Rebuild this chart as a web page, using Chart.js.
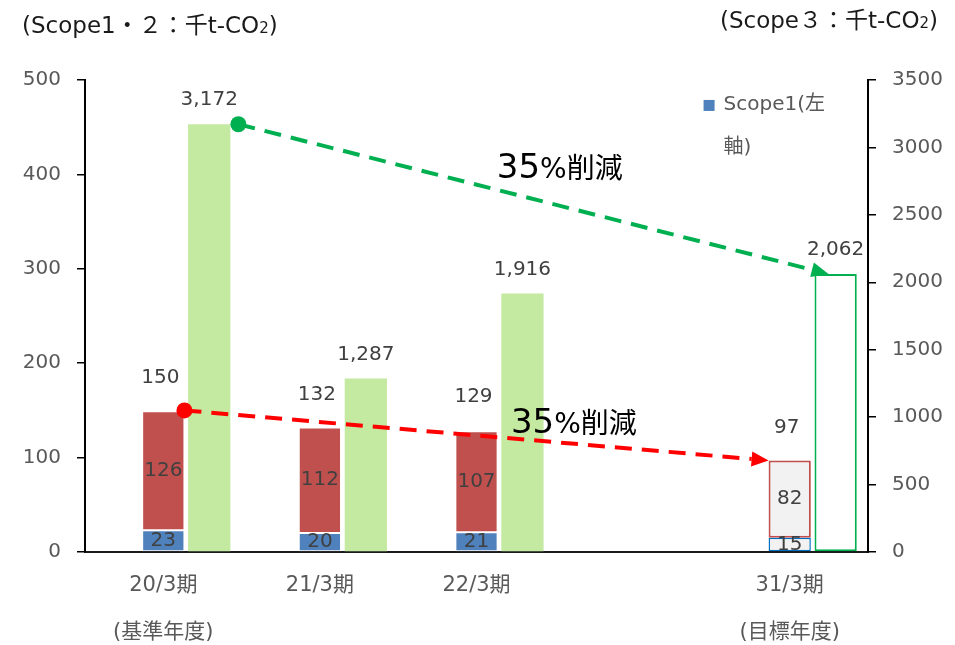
<!DOCTYPE html>
<html>
<head>
<meta charset="utf-8">
<script src="https://cdn.jsdelivr.net/npm/chart.js@4/dist/chart.umd.min.js"></script>
<style>
  html, body { margin: 0; padding: 0; background: #fff; }
  #wrap { width: 955px; height: 645px; position: relative; }
</style>
</head>
<body>
<div id="wrap"><canvas id="chart" width="955" height="645"></canvas></div>
<script>
// ---- data ----
const periods  = [['20/3期', '(基準年度)'], '21/3期', '22/3期', '', ['31/3期', '(目標年度)']];
const scope1   = [23, 20, 21, null, 15];      // 千t-CO2, left axis
const scope2   = [126, 112, 107, null, 82];   // 千t-CO2, left axis
const total12  = [150, 132, 129, null, 97];   // Scope1+2 totals
const scope3   = [3172, 1287, 1916, null, 2062]; // 千t-CO2, right axis
const leftTicks  = [0, 100, 200, 300, 400, 500];
const rightTicks = [0, 500, 1000, 1500, 2000, 2500, 3000, 3500];
const emptySlot  = [null, null, null, null, null];

const TARGET = periods.length - 1;   // last period is the target year
const FONT = "'DejaVu Sans', 'Noto Sans CJK JP', sans-serif";
const TICK_COLOR = '#595959';
const LABEL_COLOR = '#404040';

const fmt = v => v.toLocaleString('en-US');

function perPeriod(normal, target) {
  return periods.map((_, i) => i === TARGET ? target : normal);
}

// ---- helpers for canvas drawing ----
function dashedArrow(ctx, x0, y0, x1, y1, color) {
  const ang = Math.atan2(y1 - y0, x1 - x0);
  const headLen = 17, headHalf = 7.5;
  const bx = x1 - Math.cos(ang) * headLen, by = y1 - Math.sin(ang) * headLen;
  ctx.save();
  ctx.strokeStyle = color;
  ctx.fillStyle = color;
  ctx.lineWidth = 4;
  ctx.setLineDash([17, 10]);
  ctx.beginPath();
  ctx.moveTo(x0, y0);
  ctx.lineTo(bx, by);
  ctx.stroke();
  ctx.setLineDash([]);
  // start dot
  ctx.beginPath();
  ctx.arc(x0, y0, 8, 0, Math.PI * 2);
  ctx.fill();
  // arrow head
  ctx.beginPath();
  ctx.moveTo(x1, y1);
  ctx.lineTo(bx + Math.sin(ang) * headHalf, by - Math.cos(ang) * headHalf);
  ctx.lineTo(bx - Math.sin(ang) * headHalf, by + Math.cos(ang) * headHalf);
  ctx.closePath();
  ctx.fill();
  ctx.restore();
}

function reductionText(ctx, x, baseline) {
  ctx.save();
  ctx.fillStyle = '#000';
  ctx.textBaseline = 'alphabetic';
  ctx.textAlign = 'left';
  ctx.font = `34px ${FONT}`;
  ctx.fillText('35', x, baseline);
  const w = ctx.measureText('35').width;
  ctx.font = `28px ${FONT}`;
  ctx.fillText('%削減', x + w, baseline);
  ctx.restore();
}

function unitTitle(ctx, parts, x, y, align) {
  // parts: [text, size] pieces drawn side by side on a common baseline
  ctx.save();
  ctx.fillStyle = '#1a1a1a';
  ctx.textBaseline = 'alphabetic';
  ctx.textAlign = 'left';
  let total = 0;
  parts.forEach(([t, s]) => { ctx.font = `${s}px ${FONT}`; total += ctx.measureText(t).width; });
  let cx = align === 'right' ? x - total : x;
  parts.forEach(([t, s]) => {
    ctx.font = `${s}px ${FONT}`;
    ctx.fillText(t, cx, y);
    cx += ctx.measureText(t).width;
  });
  ctx.restore();
}

const overlay = {
  id: 'overlay',
  afterDatasetsDraw(chart) {
    const ctx = chart.ctx;
    const xs = chart.scales.x, y = chart.scales.y, y1 = chart.scales.y1;
    const m1 = chart.getDatasetMeta(1).data;
    const m2 = chart.getDatasetMeta(2).data;
    const m3 = chart.getDatasetMeta(3).data;

    // value labels
    ctx.save();
    ctx.font = `20px ${FONT}`;
    ctx.fillStyle = LABEL_COLOR;
    ctx.textAlign = 'center';
    ctx.textBaseline = 'middle';
    periods.forEach((_, i) => {
      if (scope1[i] == null) return;
      const b1 = m1[i], b2 = m2[i], b3 = m3[i];
      ctx.fillText(String(scope1[i]), b1.x, (b1.y + b1.base) / 2);
      ctx.fillText(String(scope2[i]), b2.x, (b2.y + b2.base) / 2);
      ctx.fillText(String(total12[i]), b2.x - 3, y.getPixelForValue(total12[i]) - 33);
      ctx.fillText(fmt(scope3[i]), b3.x, y1.getPixelForValue(scope3[i]) - 24);
    });
    ctx.restore();

    // reduction arrows: base year -> target year
    const g0 = m3[0], gT = m3[TARGET];
    dashedArrow(ctx,
      g0.x + g0.width / 2 + 8, y1.getPixelForValue(scope3[0]),
      gT.x - gT.width / 2 + 14, y1.getPixelForValue(scope3[TARGET]),
      '#00b050');
    const r0 = m2[0], rT = m2[TARGET];
    dashedArrow(ctx,
      r0.x + r0.width / 2, y.getPixelForValue(total12[0]),
      rT.x - rT.width / 2, y.getPixelForValue(total12[TARGET]),
      '#ff0000');

    reductionText(ctx, xs.getPixelForValue(2.13), y1.getPixelForValue(2775));
    reductionText(ctx, xs.getPixelForValue(2.22), y.getPixelForValue(126));

    // legend entry
    ctx.save();
    const lx = xs.getPixelForValue(3.45), ly = y1.getPixelForValue(3315);
    ctx.fillStyle = '#4f81bd';
    ctx.fillRect(lx, ly - 5, 11, 11);
    ctx.fillStyle = TICK_COLOR;
    ctx.font = `20px ${FONT}`;
    ctx.textBaseline = 'middle';
    ctx.fillText('Scope1(左', lx + 20, ly);
    ctx.fillText('軸)', lx + 20, ly + 43);
    ctx.restore();

    // axis unit titles
    unitTitle(ctx, [['(Scope1・２：千t-CO', 23], ['2', 15], [')', 23]], 22, 33, 'left');
    unitTitle(ctx, [['(Scope３：千t-CO', 23], ['2', 15], [')', 23]], 938, 28, 'right');
  }
};

const ctx = document.getElementById('chart').getContext('2d');
new Chart(ctx, {
  type: 'bar',
  data: {
    labels: periods,
    datasets: [
      { label: '', data: emptySlot, stack: 'pad', yAxisID: 'y', borderWidth: 0 },
      {
        label: 'Scope1(左軸)', data: scope1, stack: 'scope12', yAxisID: 'y',
        backgroundColor: perPeriod('#4f81bd', '#f2f2f2'),
        borderColor: perPeriod('#ffffff', '#0070c0'),
        borderWidth: perPeriod(1, 1.5), borderSkipped: false
      },
      {
        label: 'Scope2(左軸)', data: scope2, stack: 'scope12', yAxisID: 'y',
        backgroundColor: perPeriod('#c0504d', '#f2f2f2'),
        borderColor: perPeriod('#ffffff', '#c0504d'),
        borderWidth: perPeriod(1, 2), borderSkipped: false
      },
      {
        label: 'Scope3(右軸)', data: scope3, stack: 'scope3', yAxisID: 'y1',
        backgroundColor: perPeriod('#c4e9a0', '#ffffff'),
        borderColor: perPeriod('#c4e9a0', '#00b050'),
        borderWidth: perPeriod(0, 2), borderSkipped: false
      }
    ]
  },
  options: {
    responsive: false,
    animation: false,
    events: [],
    categoryPercentage: 0.88,
    barPercentage: 0.92,
    layout: { padding: { top: 80, left: 0, right: 0, bottom: 0 } },
    plugins: { legend: { display: false }, tooltip: { enabled: false }, title: { display: false } },
    scales: {
      x: {
        offset: true,
        grid: { display: false, drawTicks: false },
        border: { display: true, color: '#1a1a1a', width: 2 },
        ticks: {
          color: TICK_COLOR, autoSkip: false, maxRotation: 0, padding: 10,
          font: { family: FONT, size: 21, lineHeight: 2.25 }
        },
        afterFit: s => { s.height = 93; }
      },
      y: {
        position: 'left', min: 0, max: 500,
        afterBuildTicks: s => { s.ticks = leftTicks.map(v => ({ value: v })); },
        grid: { drawOnChartArea: false, drawTicks: true, tickLength: 8, color: '#000', lineWidth: 1.5 },
        border: { display: true, color: '#000', width: 2 },
        ticks: { color: TICK_COLOR, padding: 16, font: { family: FONT, size: 20 }, callback: v => String(v) },
        afterFit: s => { s.width = 85; }
      },
      y1: {
        position: 'right', min: 0, max: 3500,
        afterBuildTicks: s => { s.ticks = rightTicks.map(v => ({ value: v })); },
        grid: { drawOnChartArea: false, drawTicks: true, tickLength: 8, color: '#000', lineWidth: 1.5 },
        border: { display: true, color: '#000', width: 2 },
        ticks: { color: TICK_COLOR, padding: 16, font: { family: FONT, size: 20 }, callback: v => String(v) },
        afterFit: s => { s.width = 87; }
      }
    }
  },
  plugins: [overlay]
});
</script>
</body>
</html>
